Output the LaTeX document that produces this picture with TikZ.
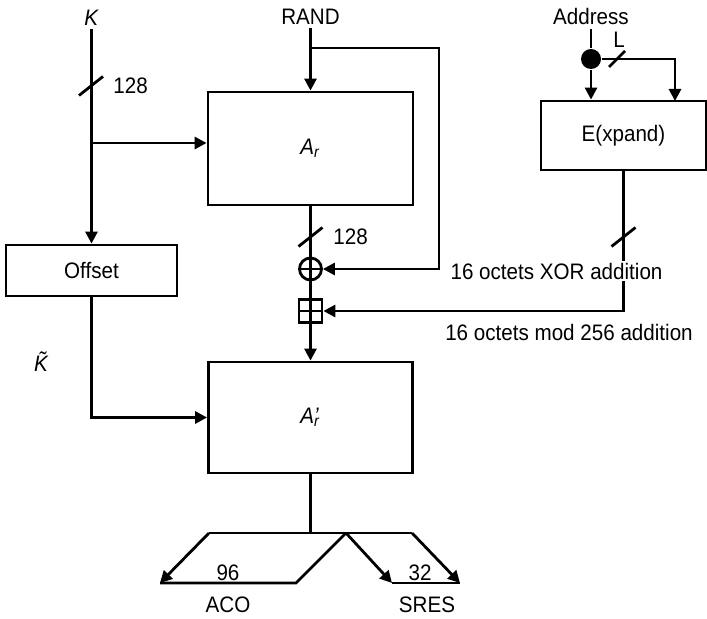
\documentclass[tikz,border=0pt]{standalone}
\usepackage{fontspec}
\setmainfont[FakeStretch=0.92]{Liberation Sans}
\usetikzlibrary{positioning, arrows.meta, calc}

\tikzset{
    blk/.style={draw, rectangle, inner sep=0pt},
    lbl/.style={inner sep=1pt, font=\fontsize{11.2}{13}\selectfont},
    xorop/.style={draw, circle, minimum size=11pt, inner sep=0pt,
        path picture={\draw (path picture bounding box.west) -- (path picture bounding box.east)
            (path picture bounding box.north) -- (path picture bounding box.south);}},
    addop/.style={draw, rectangle, minimum size=11.5pt, inner sep=0pt,
        path picture={\draw (path picture bounding box.west) -- (path picture bounding box.east)
            (path picture bounding box.north) -- (path picture bounding box.south);}},
    tap/.style={circle, fill, minimum size=10pt, inner sep=0pt},
}

\begin{document}
\begin{tikzpicture}[x=0.5pt, y=-0.5pt, line width=1.4pt, >={Triangle[length=6pt,width=6pt]},
    every node/.append style={font=\fontsize{11.2}{13}\selectfont}]
    \useasboundingbox (0,0) rectangle (707,619);

    % inputs
    \node[lbl] (kin) at (91.5,18) {\textit{K}};
    \node[lbl] (rin) at (310.5,17) {RAND};
    \node[lbl] (ain) at (591,17) {Address};

    % boxes
    \node[blk, minimum width=102.5pt, minimum height=56.5pt] (ar) at (310.5,148.5) {\textit{A}\textsubscript{\textit{r}}};
    \node[blk, minimum width=82.5pt, minimum height=34.5pt] (ebox) at (623.5,135.5) {E(xpand)};
    \node[blk, minimum width=85.5pt, minimum height=25.5pt] (offset) at (91.5,270.5) {Offset};
    \node[blk, minimum width=102pt, minimum height=55.5pt] (arp) at (310.5,417.5) {\textit{A}\rlap{\textit{'}}\textsubscript{\textit{r}}};

    % operators
    \node[xorop] (xor) at (310.5,269) {};
    \node[addop] (add) at (310.5,311) {};
    \node[tap] (dot) at (591,59) {};

    % K path
    \coordinate (kb) at (91.5,143);
    \draw[->] (kin.south) -- (offset.north);
    \draw[->] (kb) -- (ar.west |- kb);
    \draw[->] (offset.south) |- (arp.west);
    \node[lbl] (kt) at (41,362) {\textit{\~{K}}};

    % RAND path
    \coordinate (rb) at (310.5,48);
    \coordinate (fb) at (439,269);
    \draw[->] (rin.south) -- (ar.north);
    \draw[->] (rb) -| (fb) -- (xor.east);
    \draw (ar.south) -- (xor.north);
    \draw (xor.south) -- (add.north);
    \draw[->] (add.south) -- (arp.north);

    % Address path
    \coordinate (etop) at (675,101);
    \draw (ain.south) -- (dot.north);
    \draw[->] (dot.south) -- (dot.south |- ebox.north);
    \draw[->] (dot.east) -| (etop);
    \draw (609,67) -- (625,51);
    \node[lbl] (llen) at (619,40) {L};
    \draw[->] (ebox.south) |- (add.east);

    % bus widths
    \foreach \p in {(91,86),(310.5,237),(623.5,237)}
        \draw \p ++(-6pt,-4.75pt) -- ++(12pt,9.5pt);
    \node[lbl, anchor=west] (w1) at (110,86) {128};
    \node[lbl, anchor=west] (w2) at (330,237) {128};

    \node[lbl, fill=white] (xtxt) at (556.5,271) {16 octets XOR addition};
    \node[lbl] (mtxt) at (569,332) {16 octets mod 256 addition};

    % output split
    \coordinate (sp) at (310.5,533);
    \coordinate (sl) at (209,533);
    \coordinate (sr) at (412,533);
    \coordinate (sm) at (346,533);
    \coordinate (al) at (160,583);
    \coordinate (ae) at (296,583);
    \coordinate (sa) at (392,583);
    \coordinate (sb) at (460,583);
    \draw (arp.south) -- (sp);
    \draw (sl) -- (sr);
    \draw[->] (sl) -- (al);
    \draw (al) -- (ae) -- (sm);
    \draw[->] (sm) -- (sa);
    \draw (sa) -- (sb);
    \draw[->] (sr) -- (sb);

    \node[lbl] (n96) at (228,573) {96};
    \node[lbl] (n32) at (420,573) {32};
    \node[lbl] (aco) at (228,605) {ACO};
    \node[lbl] (sres) at (427,605) {SRES};
\end{tikzpicture}
\end{document}
